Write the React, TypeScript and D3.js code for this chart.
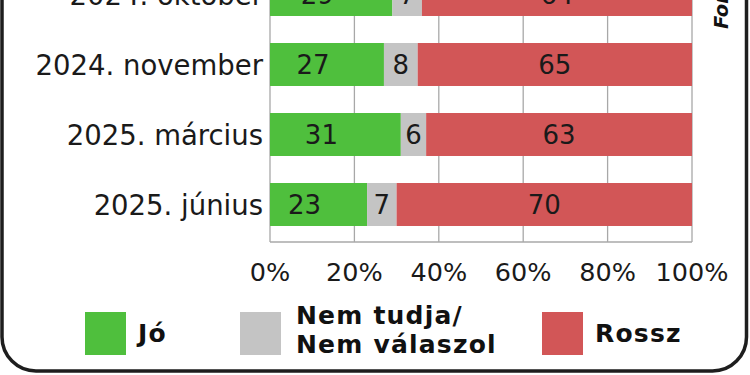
import React from "react";
import * as d3 from "d3";

const categories = ["2024. október", "2024. november", "2025. március", "2025. június"];
const jo = [29, 27, 31, 23];
const nemTudja = [7, 8, 6, 7];
const rossz = [64, 65, 63, 70];
const ticks = [0, 20, 40, 60, 80, 100];
const seriesNames = ["Jó", "Nem tudja/\nNem válaszol", "Rossz"];
const colors = ["#4fbf3d", "#c4c4c4", "#d25657"];

const W = 750, H = 375;
const FONT = "'DejaVu Sans', sans-serif";

export default function App() {
  const x = d3.scaleLinear().domain([0, 100]).range([270, 692]);
  const y = d3.scaleBand<string>().domain(categories).range([-40.5, 239.5]).paddingInner(0.386).paddingOuter(0.193);
  const series = [jo, nemTudja, rossz];
  const stack = d3.stack<number>().keys(["0", "1", "2"]).value((i, k) => series[+k][i]);
  const stacked = stack(categories.map((_, i) => i));
  const plotBottom = 242;
  const mid = (c: string) => y(c)! + y.bandwidth() / 2;

  const legendX = [85, 240, 542];
  return (
    <svg width={W} height={H} style={{ position: "absolute", left: 0, top: 0, background: "#fff" }} fontFamily={FONT}>
      <rect x={0} y={0} width={W} height={H} fill="#fff" />
      {/* frame */}
      <rect x={2} y={-120} width={744.5} height={491} rx={34} fill="none" stroke="#1e1e1e" strokeWidth={3.5} />
      {/* gridlines */}
      {ticks.map((t) => (
        <line key={t} x1={x(t)} x2={x(t)} y1={-10} y2={plotBottom} stroke="#a8a8a8" strokeWidth={1.3} />
      ))}
      <line x1={x(0)} x2={x(100)} y1={plotBottom} y2={plotBottom} stroke="#a8a8a8" strokeWidth={1.3} />
      {/* bars */}
      {stacked.map((s, si) =>
        s.map((d, i) => (
          <rect key={si + "-" + i} x={x(d[0])} y={y(categories[i])!} width={x(d[1]) - x(d[0])} height={y.bandwidth()} fill={colors[si]} />
        ))
      )}
      {/* value labels */}
      {stacked.map((s, si) =>
        s.map((d, i) => (
          <text key={"l" + si + "-" + i} x={(x(d[0]) + x(d[1])) / 2 - (si === 0 ? 14 : 0)} y={mid(categories[i]) + 9.5} textAnchor="middle" fontSize={26} fill="#1a1a1a">
            {series[si][i]}
          </text>
        ))
      )}
      {/* category labels */}
      {categories.map((c) => (
        <text key={c} x={263} y={mid(c) + 10.5} textAnchor="end" fontSize={27.5} fill="#1a1a1a">
          {c}
        </text>
      ))}
      {/* tick labels */}
      {ticks.map((t) => (
        <text key={"t" + t} x={x(t)} y={281} textAnchor="middle" fontSize={25.5} fill="#1a1a1a">
          {t}%
        </text>
      ))}
      {/* legend */}
      {seriesNames.map((n, i) => {
        const lines = n.split("\n");
        return (
          <g key={n} transform={`translate(${legendX[i]},312)`}>
            <rect x={0} y={0} width={41} height={43} fill={colors[i]} />
            {lines.map((ln, j) => (
              <text key={j} x={i === 1 ? 56 : 53} y={lines.length === 1 ? 30 : 12 + j * 29} fontSize={25} letterSpacing={1.2} fontWeight="bold" fill="#111">
                {ln}
              </text>
            ))}
          </g>
        );
      })}
      {/* source (cropped) */}
      <text transform="translate(728,29) rotate(-90)" fontSize={19.5} fontWeight="bold" fontStyle="italic" fill="#111">
        Forrás: Medián
      </text>
    </svg>
  );
}
